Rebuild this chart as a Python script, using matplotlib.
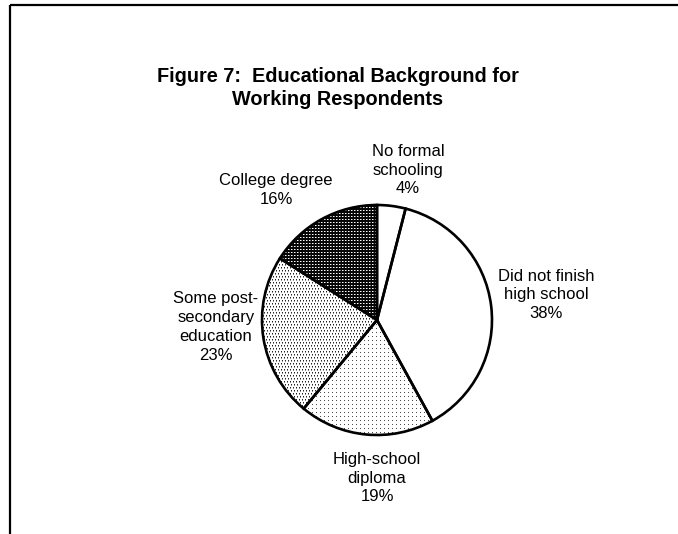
import numpy as np
import matplotlib
matplotlib.use("Agg")
import matplotlib.pyplot as plt

plt.rcParams["font.family"] = ["Liberation Sans", "DejaVu Sans"]

W, H = 678, 534

categories = ["No formal\nschooling", "Did not finish\nhigh school", "High-school\ndiploma",
              "Some post-\nsecondary\neducation", "College degree"]
shares = [4, 38, 19, 23, 16]
fills = ["white", "white", "sparse", "medium", "dark"]

# label anchor points (pixels from top-left)
label_pos = [(408, 170), (546, 295), (377, 478), (216, 327), (276, 190)]


def dot_texture(kind):
    yy, xx = np.mgrid[0:H, 0:W]
    img = np.ones((H, W))
    if kind == "sparse":
        img[(yy % 4 == 0) & (xx % 4 == 0)] = 0.3
    elif kind == "medium":
        row = yy // 3
        shift = (row % 2) * 1
        mask = (yy % 3 == 0) & ((xx + shift) % 3 == 0)
        img[mask] = 0.15
        img[(yy % 3 == 1) & ((xx + shift) % 3 == 0)] = 0.55
    elif kind == "dark":
        img[:] = 0.03
        img[(yy % 3 == 0) & (xx % 3 == 0)] = 1.0
        img[(yy % 3 == 0) & (xx % 3 == 1)] = 0.5
    return img


fig = plt.figure(figsize=(W / 100, H / 100), dpi=100)
ax = fig.add_axes([0, 0, 1, 1])

center = (377, H - 320)
radius = 115

wedges, _ = ax.pie(shares, center=center, radius=radius, startangle=90,
                   counterclock=False,
                   wedgeprops=dict(facecolor="white", edgecolor="none", zorder=1))

for w, kind in zip(wedges, fills):
    if kind == "white":
        continue
    im = ax.imshow(dot_texture(kind), cmap="gray", vmin=0, vmax=1,
                   extent=(0, W, 0, H), origin="upper",
                   interpolation="nearest", zorder=2)
    im.set_clip_path(w)

ax.pie(shares, center=center, radius=radius, startangle=90, counterclock=False,
       wedgeprops=dict(facecolor="none", edgecolor="black", linewidth=1.9, zorder=3))

ax.set_xlim(0, W)
ax.set_ylim(0, H)
ax.set_aspect("equal")
ax.axis("off")

for name, val, (x, y) in zip(categories, shares, label_pos):
    ax.text(x, H - y, f"{name}\n{val}%", ha="center", va="center",
            fontsize=12, linespacing=1.33, zorder=4)

ax.text(338, H - 88, "Figure 7:  Educational Background for\nWorking Respondents",
        ha="center", va="center", fontsize=14.3, fontweight="bold", linespacing=1.3)

# frame lines along the top and left
ax.plot([10, W], [H - 5, H - 5], color="black", linewidth=1.6, solid_capstyle="butt")
ax.plot([10, 10], [H - 5, 0], color="black", linewidth=1.6, solid_capstyle="butt")

fig.savefig("out.png", dpi=100)
